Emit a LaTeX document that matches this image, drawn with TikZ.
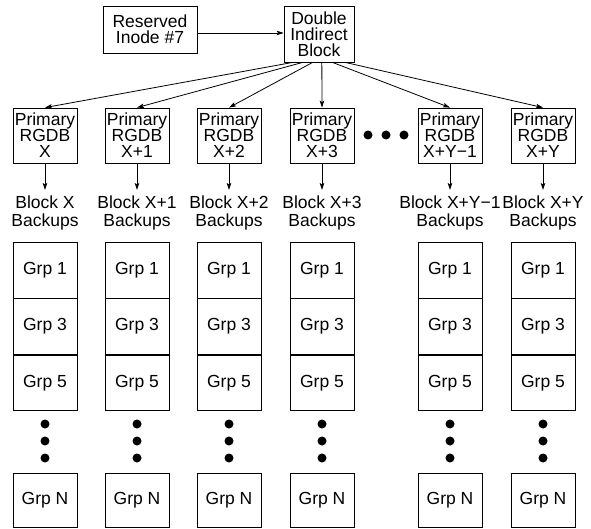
\documentclass[tikz,border=0pt]{standalone}
\usepackage{fontspec}
\setmainfont{Liberation Sans}
\usetikzlibrary{arrows.meta,calc}
\begin{document}
\begin{tikzpicture}[x=1pt,y=-1pt,
  every node/.style={font=\fontsize{17.5}{16}\selectfont},
  box/.style={draw,line width=0.8pt,inner sep=0pt,align=center},
  pbox/.style={box,minimum width=64pt,minimum height=55pt},
  gbox/.style={box,minimum width=64pt,minimum height=55.5pt},
  lbl/.style={inner sep=0pt,align=center,font=\fontsize{17.5}{17.5}\selectfont},
  link/.style={line width=0.8pt,-{Stealth[length=7pt,width=4.5pt,inset=1.5pt]}},
  dot/.style={circle,fill=black,inner sep=0pt,minimum size=9pt}]
\useasboundingbox (0,0) rectangle (591,529);

% top blocks
\node[box,minimum width=94pt,minimum height=47pt] (res) at (150,29.5) {Reserved\\Inode \#7};
\node[box,minimum width=70pt,minimum height=56pt] (dib) at (319,34) {Double\\Indirect\\Block};
\draw[link] (res.east |- 0,33) coordinate (resout) (resout) -- (dib.west |- resout);

% columns: index / centre / label
\foreach \i/\cx/\tag/\frac in {1/45/X/0.13, 2/137/X+1/0.27, 3/229/X+2/0.41, 4/322/X+3/0.54, 5/450/X+Y−1/0.69, 6/543/X+Y/0.87}{
  \node[pbox] (p\i) at (\cx,135.5) {Primary\\RGDB\\\tag};
  \node[lbl] (b\i) at (\cx,213) {Block \tag\\Backups};
  \coordinate (b\i top) at (\cx,190);
  \draw[link] (p\i.south) -- (b\i top);
  \coordinate (d\i) at ($(dib.south west)!\frac!(dib.south east)$);
  \draw[link] (d\i) -- (p\i.north);
  % backup groups
  \node[gbox,anchor=north] (g\i a) at (\cx,242) {Grp 1};
  \node[gbox,anchor=north] (g\i b) at (g\i a.south) {Grp 3};
  \node[gbox,anchor=north] (g\i c) at (g\i b.south) {Grp 5};
  \node[dot] (v\i a) at (\cx,424) {};
  \node[dot] (v\i b) at (\cx,441) {};
  \node[dot] (v\i c) at (\cx,458) {};
  \node[gbox,minimum height=54pt] (g\i n) at (\cx,500) {Grp N};
}

% gap between the listed columns
\node[dot] (h1) at (368,135) {};
\node[dot] (h2) at (386,135) {};
\node[dot] (h3) at (404,135) {};
\end{tikzpicture}
\end{document}
